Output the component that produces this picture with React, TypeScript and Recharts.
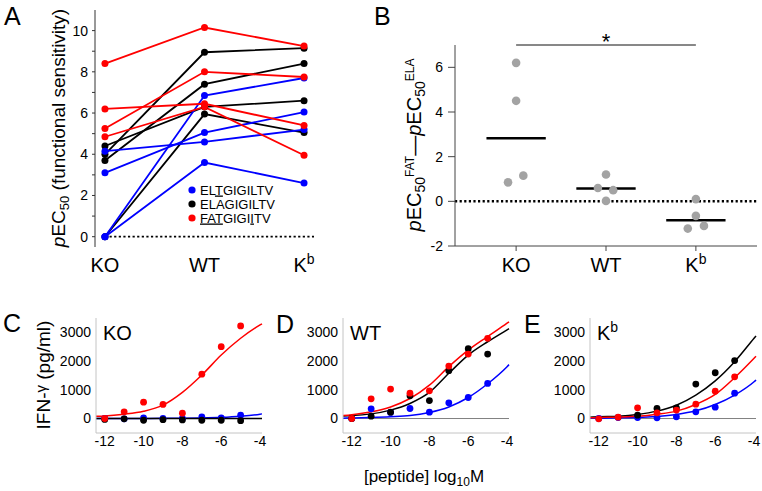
import React from 'react';
import { LineChart, ComposedChart, Line, Scatter, XAxis, YAxis, ReferenceLine } from 'recharts';

const FONT = '"Liberation Sans", Arial, Helvetica, sans-serif';
const RED = '#ff0000';
const BLUE = '#0000ff';
const BLACK = '#000000';
const GREY = '#a3a3a3';

// ---- panel A: pEC50 per mouse strain, one line per clone
const groups = ['KO', 'WT', 'Kb'];
const eltLines = [[0, 6.85, 7.7], [0, 3.6, 2.6], [3.1, 5.05, 6.05], [4.15, 4.6, 5.2]];
const elaLines = [[4.0, 8.95, 9.15], [3.7, 7.4, 8.4], [4.4, 6.3, 6.6], [0, 5.95, 5.05]];
const fatLines = [[8.4, 10.15, 9.25], [5.25, 8.0, 7.75], [6.2, 6.45, 5.4], [4.85, 6.3, 3.95]];
const aTicks = [0, 1, 2, 3, 4, 5, 6, 7, 8, 9, 10];

// ---- panel B: pEC50(FAT) - pEC50(ELA)
const diffKO = [6.2, 4.5, 1.15, 0.85];
const jitKO = [0, 0, 0.08, -0.09];
const diffWT = [1.2, 0.6, 0.5, 0.02];
const jitWT = [0, -0.09, 0.08, 0];
const diffKb = [0.1, -0.65, -1.22, -1.1];
const jitKb = [0, 0, -0.09, 0.09];
const diffMeans = [2.83, 0.57, -0.85];
const bTicks = [-2, 0, 2, 4, 6];

// ---- panels C-E: IFN-gamma dose response
const doseX = [-12, -11, -10, -9, -8, -7, -6, -5];
const fitX = [-12.45, -12, -11, -10, -9, -8, -7, -6, -5, -4, -3.9];
const doseTicks = [-12, -10, -8, -6, -4];
const ifnTicks = [0, 1000, 2000, 3000];

const koBlue = [0, -10, 25, 0, 0, 60, 25, 115];
const koBlack = [-30, -10, -60, -40, -50, -60, -60, -75];
const koRed = [0, 230, 565, 485, 185, 1530, 2480, 3195];
const koBlueFit = [0, 0, 0, 0, 5, 10, 20, 40, 80, 150, 160];
const koBlackFit = [0, 0, 0, 0, 0, 0, 0, 0, 0, 0, 0];
const koRedFit = [80, 90, 150, 250, 460, 900, 1500, 2190, 2770, 3230, 3270];

const wtBlue = [0, 335, 210, 345, 220, 540, 725, 1210];
const wtBlack = [0, 80, 220, 785, 620, 1650, 2410, 2225];
const wtRed = [0, 680, 1015, 875, 955, 1810, 2225, 2770];
const wtBlueFit = [10, 20, 35, 60, 100, 210, 400, 725, 1200, 1790, 1860];
const wtBlackFit = [90, 100, 160, 290, 520, 900, 1560, 2190, 2650, 3060, 3100];
const wtRedFit = [100, 130, 230, 400, 690, 1150, 1790, 2360, 2830, 3290, 3340];

const kbBlue = [0, 35, 35, 25, 60, 230, 390, 875];
const kbBlack = [null, null, 115, 345, 370, 1190, 1580, 2000];
const kbRed = [-10, 45, 370, 195, 290, 495, 945, 1440];
const kbBlueFit = [10, 10, 25, 35, 70, 140, 265, 485, 810, 1270, 1330];
const kbBlackFit = [45, 60, 80, 140, 255, 460, 810, 1300, 1960, 2770, 2850];
const kbRedFit = [25, 35, 45, 80, 150, 255, 485, 830, 1410, 2080, 2150];

const toPts = (xs: number[], ys: (number | null)[]) =>
  xs.map((x, i) => ({ x, y: ys[i] })).filter((p) => p.y !== null);

const rowsA = groups.map((g, i) => {
  const row: any = { x: i + 1 };
  eltLines.forEach((l, k) => (row['elt' + k] = l[i]));
  elaLines.forEach((l, k) => (row['ela' + k] = l[i]));
  fatLines.forEach((l, k) => (row['fat' + k] = l[i]));
  return row;
});

const ptsB = [
  ...diffKO.map((y, i) => ({ x: 1 + jitKO[i], y })),
  ...diffWT.map((y, i) => ({ x: 2 + jitWT[i], y })),
  ...diffKb.map((y, i) => ({ x: 3 + jitKb[i], y })),
];

const GroupTick = ({ x, y, payload, shift }: any) => {
  const label = groups[payload.value - 1];
  return (
    <text x={x} y={y + shift} textAnchor="middle" fontSize={20} fill="#000">
      {label === 'Kb' ? (
        <>
          K<tspan fontSize={14} dy={-8}>b</tspan>
        </>
      ) : (
        label
      )}
    </text>
  );
};

const dot = (color: string, r: number) => (p: any) =>
  p.cx == null ? null : <circle key={p.key} cx={p.cx} cy={p.cy} r={r} fill={color} />;

const PanelA = () => (
  <LineChart width={330} height={290} data={rowsA} margin={{ top: 10, right: 16, bottom: 0, left: 0 }}>
    <XAxis
      dataKey="x"
      type="number"
      domain={[0.9, 3.1]}
      ticks={[1, 2, 3]}
      axisLine={false}
      tickLine={false}
      height={43}
      tick={(p: any) => <GroupTick {...p} shift={17} />}
    />
    <YAxis
      type="number"
      domain={[-0.5, 11]}
      ticks={aTicks}
      width={95}
      tickSize={3}
      tickMargin={4}
      tickFormatter={(v: number) => (v % 2 === 0 ? String(v) : '')}
      stroke="#333"
      tick={{ fill: '#000', fontSize: 14 }}
    />
    <ReferenceLine
      segment={[{ x: 1, y: 0 }, { x: 3.1, y: 0 }]}
      stroke="#000"
      strokeWidth={1.8}
      strokeDasharray="2.2 2.4"
    />
    {elaLines.map((_, k) => (
      <Line key={'ela' + k} dataKey={'ela' + k} stroke={BLACK} strokeWidth={1.8} dot={dot(BLACK, 3.5)} isAnimationActive={false} />
    ))}
    {eltLines.map((_, k) => (
      <Line key={'elt' + k} dataKey={'elt' + k} stroke={BLUE} strokeWidth={1.8} dot={dot(BLUE, 3.5)} isAnimationActive={false} />
    ))}
    {fatLines.map((_, k) => (
      <Line key={'fat' + k} dataKey={'fat' + k} stroke={RED} strokeWidth={1.8} dot={dot(RED, 3.5)} isAnimationActive={false} />
    ))}
  </LineChart>
);

const PanelB = () => (
  <ComposedChart width={402} height={290} margin={{ top: 45, right: 5, bottom: 0, left: 0 }}>
    <XAxis
      dataKey="x"
      type="number"
      domain={[0.32, 3.68]}
      ticks={[1, 2, 3]}
      height={44}
      tickSize={5}
      stroke="#444"
      tick={(p: any) => <GroupTick {...p} shift={19} />}
    />
    <YAxis
      dataKey="y"
      type="number"
      domain={[-2, 7]}
      ticks={bTicks}
      width={95}
      tickSize={7}
      tickMargin={5}
      stroke="#444"
      tick={{ fill: '#000', fontSize: 14 }}
    />
    <ReferenceLine y={0} stroke="#000" strokeWidth={2.5} strokeDasharray="2.2 2.4" />
    <ReferenceLine
      segment={[{ x: 1, y: 7 }, { x: 3, y: 7 }]}
      stroke="#111"
      strokeWidth={1}
      label={(p: any) => (
        <text x={p.viewBox.x + p.viewBox.width / 2} y={p.viewBox.y + 4} textAnchor="middle" fontSize={22} fill="#000">
          *
        </text>
      )}
    />
    <Scatter data={ptsB} shape={dot(GREY, 4.3)} isAnimationActive={false} />
    {diffMeans.map((m, i) => (
      <ReferenceLine
        key={i}
        segment={[{ x: i + 1 - 0.33, y: m }, { x: i + 1 + 0.33, y: m }]}
        stroke="#000"
        strokeWidth={2.5}
      />
    ))}
  </ComposedChart>
);

interface DoseSeries {
  color: string;
  pts: (number | null)[];
  fit: number[];
}

const FRAME = '#c4c4c4';

const DosePanel = ({ series, zeroColor }: { series: DoseSeries[]; zeroColor: string }) => (
  <ComposedChart width={262} height={148} margin={{ top: 13, right: 6, bottom: 0, left: 0 }}>
    <XAxis
      dataKey="x"
      type="number"
      domain={[-12.45, -3.9]}
      ticks={doseTicks}
      height={20}
      tickSize={0}
      tickMargin={3}
      stroke={FRAME}
      tick={{ fill: '#000', fontSize: 14 }}
    />
    <XAxis
      xAxisId="t"
      orientation="top"
      type="number"
      domain={[-12.45, -3.9]}
      ticks={[-12, -11, -10, -9, -8, -7, -6, -5, -4]}
      height={0}
      mirror
      tickSize={3}
      tickFormatter={() => ''}
      stroke={FRAME}
    />
    <YAxis
      dataKey="y"
      type="number"
      domain={[-500, 3470]}
      ticks={ifnTicks}
      width={90}
      tickSize={0}
      tickMargin={5}
      stroke={FRAME}
      tick={{ fill: '#000', fontSize: 14 }}
    />
    <YAxis
      yAxisId="r"
      orientation="right"
      type="number"
      domain={[-500, 3470]}
      ticks={[-500, 0, 500, 1000, 1500, 2000, 2500, 3000]}
      width={0}
      mirror
      tickSize={3}
      tickFormatter={() => ''}
      stroke={FRAME}
    />
    <ReferenceLine y={0} stroke={zeroColor} strokeWidth={1} />
    {series.map((s, i) => (
      <Line
        key={'f' + i}
        data={toPts(fitX, s.fit)}
        dataKey="y"
        type="monotone"
        stroke={s.color}
        strokeWidth={1.5}
        dot={false}
        isAnimationActive={false}
      />
    ))}
    {series.map((s, i) => (
      <Scatter key={'p' + i} data={toPts(doseX, s.pts)} shape={dot(s.color, 3.4)} isAnimationActive={false} />
    ))}
  </ComposedChart>
);

const koSeries: DoseSeries[] = [
  { color: BLUE, pts: koBlue, fit: koBlueFit },
  { color: BLACK, pts: koBlack, fit: koBlackFit },
  { color: RED, pts: koRed, fit: koRedFit },
];
const wtSeries: DoseSeries[] = [
  { color: BLUE, pts: wtBlue, fit: wtBlueFit },
  { color: BLACK, pts: wtBlack, fit: wtBlackFit },
  { color: RED, pts: wtRed, fit: wtRedFit },
];
const kbSeries: DoseSeries[] = [
  { color: BLUE, pts: kbBlue, fit: kbBlueFit },
  { color: BLACK, pts: kbBlack, fit: kbBlackFit },
  { color: RED, pts: kbRed, fit: kbRedFit },
];

const abs = (left: number, top: number): React.CSSProperties => ({ position: 'absolute', left, top });

const Overlay = () => (
  <svg width={762} height={491} style={{ position: 'absolute', left: 0, top: 0, pointerEvents: 'none' }}>
    <g fontSize={25} fill="#000">
      <text x={4} y={25}>A</text>
      <text x={374} y={25}>B</text>
      <text x={3} y={332}>C</text>
      <text x={276} y={333}>D</text>
      <text x={524} y={333}>E</text>
    </g>
    {/* axis titles */}
    <text transform="translate(65,128) rotate(-90)" textAnchor="middle" fontSize={19} fill="#000">
      <tspan fontStyle="italic">p</tspan>EC<tspan fontSize={13} dy={4}>50</tspan>
      <tspan dy={-4}> (functional sensitivity)</tspan>
    </text>
    <text transform="translate(421,145) rotate(-90)" textAnchor="middle" fontSize={20} fill="#000">
      <tspan fontStyle="italic">p</tspan>EC<tspan fontSize={14} dy={4}>50</tspan>
      <tspan fontSize={12} dy={-11}>FAT</tspan>
      <tspan dy={7}>—</tspan>
      <tspan fontStyle="italic">p</tspan>EC<tspan fontSize={14} dy={4}>50</tspan>
      <tspan fontSize={12} dy={-11}>ELA</tspan>
    </text>
    <text transform="translate(50,375) rotate(-90)" textAnchor="middle" fontSize={19} fill="#000">
      IFN-<tspan fontSize={15} dy={-4}>γ</tspan>
      <tspan dy={4}> (pg/ml)</tspan>
    </text>
    <text x={424} y={482} textAnchor="middle" fontSize={17} fill="#000">
      [peptide] log<tspan fontSize={12} dy={4}>10</tspan>
      <tspan dy={-4}>M</tspan>
    </text>
    {/* panel titles */}
    <g fontSize={20} fill="#000">
      <text x={103} y={340}>KO</text>
      <text x={350} y={340}>WT</text>
      <text x={597} y={340}>
        K<tspan fontSize={14} dy={-8}>b</tspan>
      </text>
    </g>
    {/* legend of panel A */}
    <g fontSize={13} fill="#000">
      <circle cx={192} cy={190} r={3.6} fill={BLUE} />
      <text x={200} y={194.5}>
        EL<tspan textDecoration="underline">T</tspan>GIGILTV
      </text>
      <circle cx={192} cy={204} r={3.6} fill={BLACK} />
      <text x={200} y={208.5}>ELAGIGILTV</text>
      <circle cx={192} cy={218} r={3.6} fill={RED} />
      <text x={200} y={222.5}>
        <tspan textDecoration="underline">FAT</tspan>GIGI<tspan textDecoration="underline">I</tspan>TV
      </text>
    </g>
  </svg>
);

export default function App() {
  return (
    <div style={{ position: 'absolute', left: 0, top: 0, width: 762, height: 491, background: '#fff', fontFamily: FONT }}>
      <div style={abs(0, 0)}>
        <PanelA />
      </div>
      <div style={abs(360, 0)}>
        <PanelB />
      </div>
      <div style={abs(6, 305)}>
        <DosePanel series={koSeries} zeroColor={BLACK} />
      </div>
      <div style={abs(253, 305)}>
        <DosePanel series={wtSeries} zeroColor="#808080" />
      </div>
      <div style={abs(500, 305)}>
        <DosePanel series={kbSeries} zeroColor="#808080" />
      </div>
      <Overlay />
    </div>
  );
}
